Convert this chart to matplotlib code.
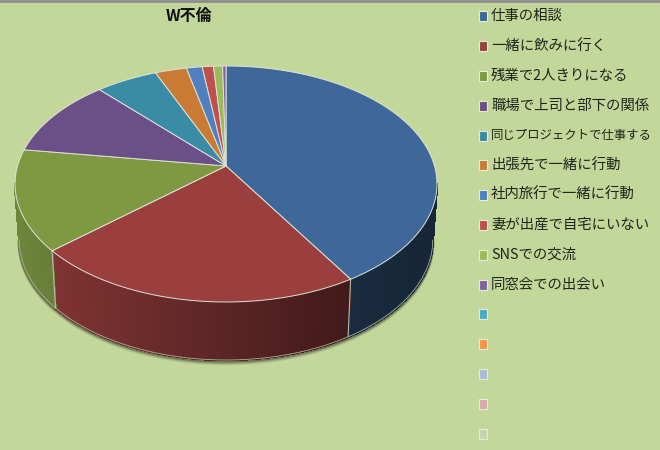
import numpy as np
import matplotlib
matplotlib.use("Agg")
import matplotlib.pyplot as plt
from matplotlib.collections import PolyCollection
from matplotlib.patches import Rectangle

plt.rcParams['font.family'] = ['Noto Sans CJK JP', 'DejaVu Sans']

title = "W不倫"
labels = ["仕事の相談", "一緒に飲みに行く", "残業で2人きりになる", "職場で上司と部下の関係",
          "同じプロジェクトで仕事する", "出張先で一緒に行動", "社内旅行で一緒に行動",
          "妻が出産で自宅にいない", "SNSでの交流", "同窓会での出会い", "", "", "", "", ""]
values = [41.3, 22.2, 13.8, 10.9, 5.5, 2.8, 1.4, 1.0, 0.8, 0.3, 0, 0, 0, 0, 0]
colors = ["#3e6899", "#9a3f3d", "#7f9943", "#6a5087", "#3a8ba5", "#c97a35", "#5080c0",
          "#c0504d", "#9bbb59", "#8064a2", "#4bacc6", "#f79646", "#aabad7", "#d9aaa9", "#c6d5ae"]

BG = "#c4d79b"
# perspective of the pie, in pixels
CX, CY = 226, 166
RX, RY = 208.5, 115.25
K = 0.1525
DEPTH = 56
LEGEND_RIGHT = 652


def project(theta):
    """Clockwise angle from the top (degrees) to a point on the top rim."""
    t = np.radians(theta)
    u, v = np.sin(t), np.cos(t)
    w = 1 + K * v
    return CX + RX * u / w, CY - RY * v / w


def lower(x, y):
    """Matching point on the bottom rim of the pie."""
    return CX + 0.98 * (x - CX), y + DEPTH + 2 * np.clip((y - 184) / 118, 0, 1)


def shade(x):
    """The side wall gets darker from left to right."""
    return np.interp(x, [15, 52, 349, 437], [0.87, 0.82, 0.42, 0.36])


fig = plt.figure(figsize=(6.6, 4.5), dpi=100, facecolor=BG)
ax = fig.add_axes([0, 0, 1, 1])
ax.set_xlim(0, 660)
ax.set_ylim(450, 0)
ax.axis("off")

ax.plot([0, 660], [0.5, 0.5], color="#8c8c8c", lw=2, zorder=5)

shares = np.array(values) / sum(values) * 360
edges = np.concatenate([[0], np.cumsum(shares)])
vis_lo, vis_hi = 98.8, 261.2

# soft shadow under the wall
ring = np.linspace(vis_lo, vis_hi, 200)
rx, ry = project(ring)
bx, by = lower(rx, ry)
for off, alpha in [(4, 0.08), (3, 0.14), (2, 0.22), (1, 0.35)]:
    ax.plot(bx, by + off, color="#20281a", alpha=alpha, lw=2.2, zorder=1)

# side wall, one thin strip at a time for the gradient
polys, fills = [], []
for val, col, a, b in zip(values, colors, edges[:-1], edges[1:]):
    lo, hi = max(a, vis_lo), min(b, vis_hi)
    if val == 0 or lo >= hi:
        continue
    steps = np.arange(lo, hi, 0.5).tolist() + [hi]
    base = np.array(matplotlib.colors.to_rgb(col))
    for s0, s1 in zip(steps[:-1], steps[1:]):
        x0, y0 = project(s0)
        x1, y1 = project(s1)
        x2, y2 = lower(x1, y1)
        x3, y3 = lower(x0, y0)
        polys.append([(x0, y0), (x1, y1), (x2, y2), (x3, y3)])
        fills.append(base * shade((x0 + x1) / 2))
ax.add_collection(PolyCollection(polys, facecolors=fills, edgecolors=fills, linewidths=1.0,
                                 antialiased=False, zorder=2))

# wall seams and lower edge
for e in edges[1:]:
    if vis_lo < e < vis_hi:
        x, y = project(e)
        lx, ly = lower(x, y)
        ax.plot([x, lx], [y, ly], color="#b9bdb0", lw=0.8, zorder=3)
ax.plot(bx, by, color="#a9ad9c", lw=0.6, zorder=3)

# top face
for val, col, a, b in zip(values, colors, edges[:-1], edges[1:]):
    if val == 0:
        continue
    x, y = project(np.linspace(a, b, max(int(b - a) * 2, 4)))
    ax.fill(np.r_[CX, x], np.r_[CY, y], facecolor=col, edgecolor="#dfe2d6", lw=0.7, zorder=4)

ax.text(189, 16, title, fontsize=11.5, fontweight="bold", color="#111111",
        ha="center", va="center", zorder=6)

# legend
renderer = fig.canvas.get_renderer()
for i, (lab, col) in enumerate(zip(labels, colors)):
    y = 16.3 + i * 29.8
    ax.add_patch(Rectangle((478.5, y - 5), 8, 10, facecolor=col, edgecolor="#e6eadb", lw=0.8, zorder=6))
    if lab:
        t = ax.text(491, y, lab, fontsize=10.4, color="#20241a", ha="left", va="center", zorder=6)
        # the longest label has to stay inside the picture
        width = t.get_window_extent(renderer).width
        if 491 + width > LEGEND_RIGHT:
            t.set_fontsize(10.4 * (LEGEND_RIGHT - 491) / width)

fig.savefig("out.png", dpi=100, facecolor=BG)
